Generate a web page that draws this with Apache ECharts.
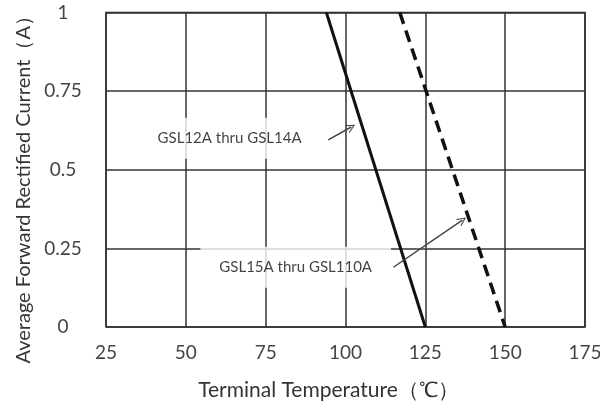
<!DOCTYPE html>
<html>
<head>
<meta charset="utf-8">
<script src="https://cdn.jsdelivr.net/npm/echarts@6/dist/echarts.min.js"></script>
<style>
html,body{margin:0;padding:0;background:#fff;}
#chart{width:600px;height:405px;}
</style>
</head>
<body>
<div id="chart"></div>
<script>
// Tick values
var xTicks = [25, 50, 75, 100, 125, 150, 175];
var yTicks = [0, 0.25, 0.5, 0.75, 1];

// Derating curves: [temperature °C, current A]
var gsl12to14 = [[94, 1], [125, 0]];
var gsl15to110 = [[117, 1], [150, 0]];

// Annotation labels: [x, y, text]
var labelNames = ['GSL12A thru GSL14A', 'GSL15A thru GSL110A'];
var labelPos = [[63.7, 0.60], [84.4, 0.19]];

// Arrows: start and end points
var arrowStarts = [[94.6, 0.595], [115, 0.19]];
var arrowEnds = [[101.8, 0.636], [136.6, 0.34]];

var chart = echarts.init(document.getElementById('chart'), null, {renderer: 'canvas'});

var arrowHead = 'path://M0,10 L5,0 L10,10 L8.6,10 L5,2.6 L1.4,10 Z';

var option = {
  backgroundColor: '#ffffff',
  animation: false,
  grid: {left: 106, right: 15, top: 12.5, bottom: 78, outerBoundsMode: 'none', containLabel: false, show: true, borderColor: '#222', borderWidth: 1.5, backgroundColor: 'transparent'},
  xAxis: {
    type: 'value',
    min: xTicks[0],
    max: xTicks[xTicks.length - 1],
    interval: 25,
    name: 'Terminal Temperature（℃）',
    nameLocation: 'middle',
    nameGap: 53,
    nameTextStyle: {fontFamily: 'Lato', fontSize: 21, color: '#333', padding: [0, 34, 0, 0]},
    axisLine: {show: false},
    axisTick: {show: false},
    axisLabel: {fontFamily: 'Lato', fontSize: 19, color: '#444', margin: 16},
    splitLine: {show: true, lineStyle: {color: '#333', width: 1.5}}
  },
  yAxis: {
    type: 'value',
    min: yTicks[0],
    max: yTicks[yTicks.length - 1],
    interval: 0.25,
    name: 'Average Forward Rectified Current（A）',
    nameLocation: 'middle',
    nameGap: 72,
    nameTextStyle: {fontFamily: 'Lato', fontSize: 20, color: '#333', padding: [0, 30, 0, 0]},
    axisLine: {show: false},
    axisTick: {show: false},
    axisLabel: {fontFamily: 'Lato', fontSize: 19, color: '#444', margin: 43, align: 'center'},
    splitLine: {show: true, lineStyle: {color: '#333', width: 1.5}}
  },
  series: [
    {
      type: 'scatter',
      z: 1,
      symbolSize: 0,
      silent: true,
      data: labelPos.map(function (p, i) { return {name: labelNames[i], value: p}; }),
      label: {
        show: true,
        position: 'inside',
        formatter: '{b}',
        fontFamily: 'Lato',
        fontSize: 15,
        color: '#111',
        backgroundColor: '#ffffff',
        padding: [13, 19]
      }
    },
    {
      type: 'line',
      z: 3,
      data: gsl12to14,
      symbol: 'none',
      lineStyle: {color: '#111', width: 3},
      markLine: {
        silent: true,
        symbol: ['none', arrowHead],
        symbolSize: [9, 9],
        label: {show: false},
        lineStyle: {color: '#444', width: 1.5, type: 'solid'},
        data: arrowStarts.map(function (s, i) {
          return [{coord: s}, {coord: arrowEnds[i]}];
        })
      }
    },
    {
      type: 'line',
      z: 3,
      data: gsl15to110,
      symbol: 'none',
      lineStyle: {color: '#111', width: 3.5, type: [12, 7]}
    }
  ]
};
chart.setOption(option);
</script>
</body>
</html>
